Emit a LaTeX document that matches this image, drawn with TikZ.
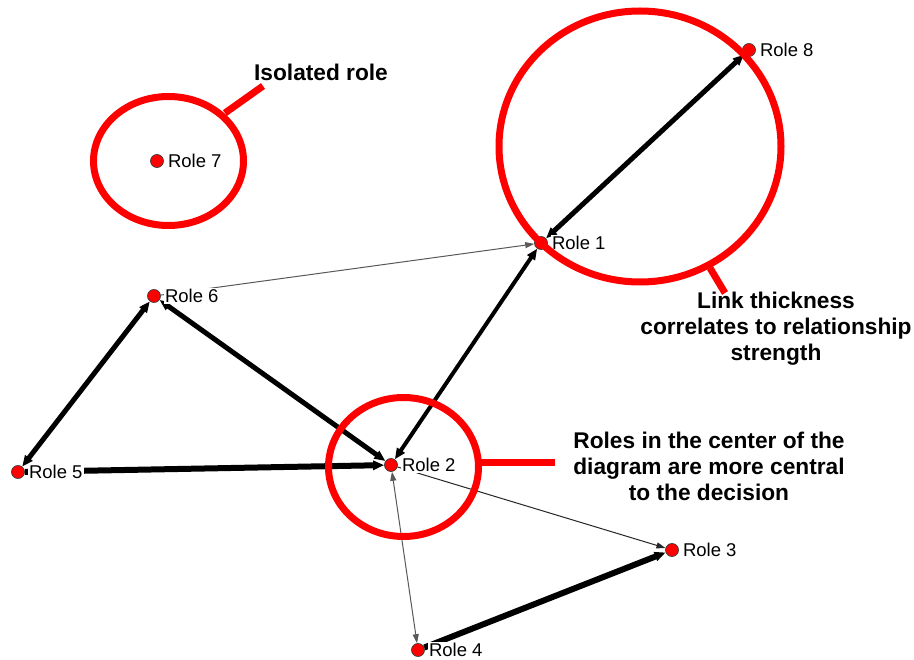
\documentclass[tikz,border=0pt]{standalone}
\usepackage{fontspec}
\setmainfont{Liberation Sans}
\usetikzlibrary{arrows.meta}
\begin{document}
\begin{tikzpicture}[x=1pt,y=-1pt,
  dot/.style={circle,fill=red,draw=black!75,line width=0.7pt,minimum size=13pt,inner sep=0pt},
  lbl/.style={anchor=west,fill=white,inner sep=1pt,font=\fontsize{18.5}{20}\selectfont},
  note/.style={align=center,font=\fontsize{22.7}{26}\selectfont\bfseries},
  hl/.style={draw=red,line width=7pt},
  strong/.style={draw=black,line width=#1},
  weak/.style={draw=#1,line width=1pt},
  hd/.style={-{Triangle[length=11pt,width=9pt]}},
  bhd/.style={{Triangle[length=11pt,width=9pt]}-{Triangle[length=11pt,width=9pt]}},
  thd/.style={-{Triangle[length=9pt,width=6pt]}},
  tbhd/.style={{Triangle[length=9pt,width=6pt]}-{Triangle[length=9pt,width=6pt]}}
]
\fill[white] (0,0) rectangle (914,660);
\useasboundingbox (0,0) rectangle (914,660);

% role dots
\node[dot] (r7) at (157,161) {};
\node[dot] (r8) at (749,50) {};
\node[dot] (r1) at (541,243) {};
\node[dot] (r6) at (154,296) {};
\node[dot] (r5) at (18,472) {};
\node[dot] (r2) at (391,465) {};
\node[dot] (r3) at (672,550) {};
\node[dot] (r4) at (418,650) {};

% links
\draw[weak=black!65,thd] (r6) -- (r1);
\draw[weak=black!85,thd] (r2) -- (r3);
\draw[weak=black!65,tbhd] (r2) -- (r4);
\draw[strong=5pt,bhd] (r1) -- (r8);
\draw[strong=5pt,bhd] (r5) -- (r6);
\draw[strong=5pt,bhd] (r6) -- (r2);
\draw[strong=6pt,hd] (r5) -- (r2);
\draw[strong=4pt,bhd] (r2) -- (r1);
\draw[strong=6pt,hd] (r4) -- (r3);

% labels
\node[lbl] (l7) at ([xshift=3pt]r7.east) {Role 7};
\node[lbl] (l8) at ([xshift=3pt]r8.east) {Role 8};
\node[lbl] (l1) at ([xshift=3pt]r1.east) {Role 1};
\node[lbl] (l6) at ([xshift=3pt]r6.east) {Role 6};
\node[lbl] (l5) at ([xshift=3pt]r5.east) {Role 5};
\node[lbl] (l2) at ([xshift=3pt]r2.east) {Role 2};
\node[lbl] (l3) at ([xshift=3pt]r3.east) {Role 3};
\node[lbl] (l4) at ([xshift=3pt]r4.east) {Role 4};

% highlights
\draw[hl] (168.5,161) ellipse [x radius=75pt, y radius=64.5pt];
\draw[hl] (640,146.5) ellipse [x radius=141pt, y radius=135.5pt];
\draw[hl] (403.5,467) ellipse [x radius=75pt, y radius=69.5pt];

\coordinate (c7a) at (225,113);
\coordinate (c7b) at (263,86);
\coordinate (c1a) at (710,268);
\coordinate (c1b) at (725,293);
\coordinate (c2a) at (478,463);
\coordinate (c2b) at (555,463);
\draw[hl] (c7a) -- (c7b);
\draw[hl] (c1a) -- (c1b);
\draw[hl] (c2a) -- (c2b);

% notes
\node[note] (n7) at (321,72) {Isolated role};
\node[note] (n1) at (776,329) {Link thickness\\correlates to relationship\\strength};
\node[note] (n2) at (709,466) {Roles in the center of the\\diagram are more central\\to the decision};
\end{tikzpicture}
\end{document}
